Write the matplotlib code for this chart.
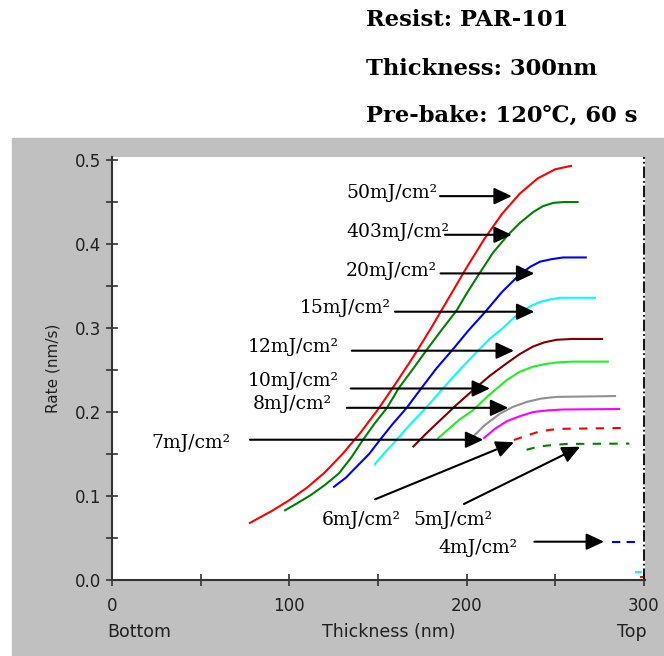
import matplotlib
matplotlib.use("Agg")
import matplotlib.pyplot as plt
from matplotlib.patches import Rectangle

# Dissolution rate vs. resist depth for several exposure doses
x50 = [77.8, 90, 100, 110, 120, 130, 140, 150, 160, 170, 180, 190, 200, 210, 220, 230, 240, 250, 258.9]
y50 = [0.068, 0.082, 0.095, 0.110, 0.128, 0.150, 0.175, 0.203, 0.234, 0.266, 0.300, 0.336, 0.372, 0.406, 0.436, 0.460, 0.478, 0.489, 0.493]

x40 = [97.6, 105, 112, 120, 128, 135, 141.6, 148, 155.1, 161.9, 170, 178.2, 186, 194.4, 200, 206.6, 215, 223.4, 230, 237.5, 243, 248.9, 255, 262.6]
y40 = [0.083, 0.092, 0.101, 0.113, 0.127, 0.146, 0.167, 0.186, 0.205, 0.229, 0.252, 0.276, 0.298, 0.321, 0.341, 0.363, 0.390, 0.411, 0.425, 0.438, 0.445, 0.449, 0.450, 0.450]

x20 = [125.2, 132, 138, 145, 151.2, 158, 166.2, 174.7, 183, 192, 201, 210.4, 220, 230.1, 236, 241.4, 248, 254.4, 260, 267.2]
y20 = [0.111, 0.122, 0.135, 0.150, 0.167, 0.185, 0.205, 0.229, 0.252, 0.274, 0.297, 0.319, 0.343, 0.364, 0.373, 0.379, 0.382, 0.384, 0.384, 0.384]

x15 = [148.3, 154, 160.6, 168, 177.1, 187, 196, 205, 213, 220.5, 226, 230.1, 236, 241.4, 247, 252.7, 260, 272.4]
y15 = [0.138, 0.152, 0.167, 0.185, 0.205, 0.229, 0.250, 0.270, 0.287, 0.300, 0.311, 0.318, 0.326, 0.331, 0.334, 0.336, 0.336, 0.336]

x12 = [170, 177, 185, 194, 203.6, 213, 222.6, 230, 237.5, 244, 250.8, 260, 276.4]
y12 = [0.159, 0.174, 0.190, 0.208, 0.226, 0.243, 0.258, 0.269, 0.278, 0.283, 0.286, 0.287, 0.287]

x10 = [184, 190, 196, 203.6, 212, 222.6, 230, 237.5, 244, 250.8, 260, 279.6]
y10 = [0.169, 0.180, 0.191, 0.202, 0.219, 0.238, 0.248, 0.254, 0.257, 0.259, 0.260, 0.260]

x8 = [203.8, 210, 218.8, 226, 233.9, 242, 250.8, 283.7]
y8 = [0.171, 0.184, 0.198, 0.206, 0.212, 0.216, 0.218, 0.219]

x7 = [209.8, 216, 222.6, 230, 237.6, 246, 254.5, 286.1]
y7 = [0.169, 0.180, 0.189, 0.195, 0.200, 0.202, 0.203, 0.2036]

x6 = [226.7, 234, 241.4, 248, 254.5, 288.4]
y6 = [0.1667, 0.172, 0.177, 0.179, 0.180, 0.181]

x5 = [233.8, 239, 245.1, 256.4, 291.8]
y5 = [0.155, 0.158, 0.160, 0.162, 0.1624]

x4 = [281.8, 295]
y4 = [0.0456, 0.0456]

x3 = [295.5, 298.5]
y3 = [0.009, 0.009]
x2 = [298.6, 299.4]
y2 = [0.004, 0.004]

# label text, label anchor (left, center), arrow start, arrow tip
labels = ["50mJ/cm²", "403mJ/cm²", "20mJ/cm²", "15mJ/cm²", "12mJ/cm²",
          "10mJ/cm²", "8mJ/cm²", "7mJ/cm²", "6mJ/cm²", "5mJ/cm²", "4mJ/cm²"]
label_x = [132, 132, 132, 106, 76.3, 76.3, 79.4, 22, 118.4, 169.8, 183.9]
label_y = [0.4607, 0.4146, 0.368, 0.3235, 0.277, 0.237, 0.209, 0.1635, 0.0714, 0.0714, 0.038]
arrow_x0 = [185, 187.8, 185.3, 159.6, 135.2, 134.6, 132.4, 77.8, 148.3, 198.5, 238.2]
arrow_y0 = [0.457, 0.411, 0.365, 0.3194, 0.273, 0.228, 0.205, 0.167, 0.096, 0.0905, 0.0456]
arrow_x1 = [225.5, 225.5, 238.2, 238.2, 226.7, 213.2, 223.5, 209.4, 226.7, 264, 277.5]
arrow_y1 = [0.457, 0.411, 0.365, 0.3194, 0.273, 0.228, 0.205, 0.167, 0.164, 0.1587, 0.0456]

xticks = [0, 100, 200, 300]
xminor = [50, 150, 250]
yticks = [0.0, 0.1, 0.2, 0.3, 0.4, 0.5]
yminor = [0.05, 0.15, 0.25, 0.35, 0.45]

W, H = 664, 656
fig = plt.figure(figsize=(W / 100, H / 100), dpi=100)
fig.patch.set_facecolor("white")

# grey panel behind the plot
fig.patches.append(Rectangle((12 / W, 0), 1 - 12 / W, (H - 138) / H,
                             transform=fig.transFigure, color="#c0c0c0", zorder=-10))

ax = fig.add_axes([112 / W, (H - 580) / H, 533 / W, (580 - 157) / H])
ax.set_zorder(1)
ax.set_facecolor("white")
ax.set_xlim(0, 300.6)
ax.set_ylim(0, 0.5036)

lw = 1.5
ax.plot(x50, y50, color="#ff0000", lw=lw)
ax.plot(x40, y40, color="#008000", lw=lw)
ax.plot(x20, y20, color="#0000ff", lw=lw)
ax.plot(x15, y15, color="#00ffff", lw=lw)
ax.plot(x12, y12, color="#800000", lw=lw)
ax.plot(x10, y10, color="#22ee22", lw=lw)
ax.plot(x8, y8, color="#909090", lw=lw)
ax.plot(x7, y7, color="#ff00ff", lw=lw)
ax.plot(x6, y6, color="#ff0000", lw=lw, dashes=(4, 4))
ax.plot(x5, y5, color="#008000", lw=lw, dashes=(4, 4))
ax.plot(x4, y4, color="#0000ff", lw=lw, dashes=(4, 3))
ax.plot(x3, y3, color="#00ffff", lw=lw)
ax.plot(x2, y2, color="#ff0000", lw=lw)

ax.axvline(300, color="black", lw=1.3, ls="-.")

for i in range(len(labels)):
    ax.annotate("", xy=(arrow_x1[i], arrow_y1[i]), xytext=(arrow_x0[i], arrow_y0[i]),
                arrowprops=dict(arrowstyle="-|>,head_length=0.77,head_width=0.36",
                                mutation_scale=14, color="black", lw=1.5,
                                shrinkA=0, shrinkB=0))
    ax.text(label_x[i], label_y[i], labels[i], family="DejaVu Serif",
            fontsize=13.5, ha="left", va="center", color="black")

# axes styling
for side in ["top", "right"]:
    ax.spines[side].set_visible(False)
for side in ["left", "bottom"]:
    ax.spines[side].set_color("#333333")
    ax.spines[side].set_linewidth(1.5)

ax.set_xticks(xticks)
ax.set_xticks(xminor, minor=True)
ax.set_yticks(yticks)
ax.set_yticks(yminor, minor=True)
ax.set_xticklabels([str(t) for t in xticks])
ax.set_yticklabels([f"{t:.1f}" for t in yticks])
ax.tick_params(which="both", direction="inout", length=8, width=1.2, color="#333333")
ax.tick_params(axis="x", which="major", labelsize=12, pad=8, labelcolor="#202020")
ax.tick_params(axis="y", which="major", labelsize=12, pad=4, labelcolor="#202020")

ax.set_ylabel("Rate (nm/s)", fontsize=11, color="#202020", labelpad=10)

xt = ax.get_xaxis_transform()
bottom_y = -(632 - 580) / (580 - 157)
ax.text(15.2, bottom_y, "Bottom", transform=xt, ha="center", va="center",
        fontsize=12.5, color="#202020")
ax.text(156, bottom_y, "Thickness (nm)", transform=xt, ha="center", va="center",
        fontsize=12.5, color="#202020")
ax.text(293, bottom_y, "Top", transform=xt, ha="center", va="center",
        fontsize=12.5, color="#202020")

# process conditions
info = ["Resist: PAR-101", "Thickness: 300nm", "Pre-bake: 120℃, 60 s"]
info_y = [20, 69, 116]
for txt, py in zip(info, info_y):
    fig.text(366 / W, 1 - py / H, txt, family=["DejaVu Serif", "DejaVu Sans"],
             fontsize=16.3, fontweight="bold", ha="left", va="center", color="black")

fig.savefig("out.png", dpi=100)
